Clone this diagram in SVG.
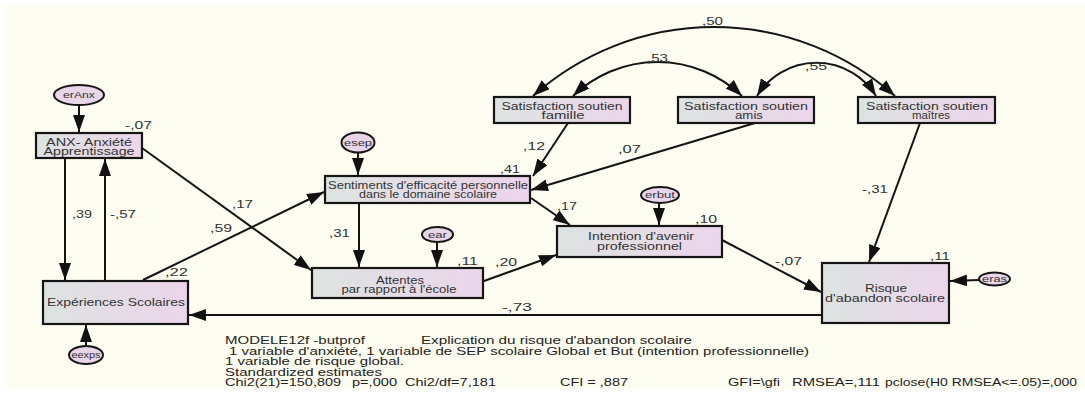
<svg xmlns="http://www.w3.org/2000/svg" width="1085" height="396" viewBox="0 0 1085 396">
<style>
.box{stroke:#161616;stroke-width:2.2;fill:url(#bg)}
.ell{stroke:#161616;stroke-width:2;fill:#e8d5e8}
.bt{font-family:"Liberation Sans",Arial,sans-serif;font-size:10px;fill:#333;text-anchor:middle}
.et{font-family:"Liberation Sans",Arial,sans-serif;font-size:9px;fill:#333;text-anchor:middle}
.nt{font-family:"Liberation Sans",Arial,sans-serif;font-size:11px;fill:#333}
.ft{font-family:"Liberation Sans",Arial,sans-serif;font-size:11.5px;fill:#222}
.c{fill:none;stroke:#141414;stroke-width:2;marker-end:url(#ah)}
.cv{fill:none;stroke:#141414;stroke-width:2;marker-start:url(#ah);marker-end:url(#ah)}
</style>
<defs>
<linearGradient id="bg" x1="0" y1="0" x2="1" y2="0">
<stop offset="0" stop-color="#dde3e1"/>
<stop offset="1" stop-color="#ecd5eb"/>
</linearGradient>
<marker id="ah" viewBox="0 0 17 12" refX="17" refY="6" markerWidth="17" markerHeight="12" markerUnits="userSpaceOnUse" orient="auto-start-reverse">
<path d="M0,0 L17,6 L0,12 z" fill="#111"/>
</marker>
</defs>
<rect x="0" y="0" width="1085" height="396" fill="#ffffff"/>
<rect x="5" y="5" width="1080" height="384" fill="#fdfdf1"/>

<g id="connectors">
<path class="c" d="M79,105 L79,132"/>
<path class="c" d="M65,158 L65,280"/>
<path class="c" d="M105,280 L105,159"/>
<path class="c" d="M142,148 L311,270"/>
<path class="c" d="M143,280 L324,192"/>
<path class="c" d="M358,153 L358,175"/>
<path class="c" d="M359,203 L359,267"/>
<path class="c" d="M437,242 L437,267"/>
<path class="c" d="M568,123 L533,176"/>
<path class="c" d="M755,123 L531,190"/>
<path class="c" d="M531,198 L570,225"/>
<path class="c" d="M484,281 L556,255"/>
<path class="c" d="M659,203 L659,225"/>
<path class="c" d="M722,240 L821,292"/>
<path class="c" d="M920,123 L869,262"/>
<path class="c" d="M979,280 L950,281"/>
<path class="c" d="M822,315 L189,315"/>
<path class="c" d="M86,345 L86,325"/>
<path class="cv" d="M533,96 A272,272 0 0 1 895,96"/>
<path class="cv" d="M573,96 A122,122 0 0 1 742,96"/>
<path class="cv" d="M757,96 A70,70 0 0 1 876,96"/>
</g>

<g id="labels">
<text class="nt" x="125" y="129" textLength="27" lengthAdjust="spacingAndGlyphs">-,07</text>
<text class="nt" x="72" y="218" textLength="20" lengthAdjust="spacingAndGlyphs">,39</text>
<text class="nt" x="110" y="218" textLength="26" lengthAdjust="spacingAndGlyphs">-,57</text>
<text class="nt" x="232" y="208" textLength="21" lengthAdjust="spacingAndGlyphs">,17</text>
<text class="nt" x="210" y="232" textLength="22" lengthAdjust="spacingAndGlyphs">,59</text>
<text class="nt" x="165" y="276" textLength="23" lengthAdjust="spacingAndGlyphs">,22</text>
<text class="nt" x="329" y="237" textLength="21" lengthAdjust="spacingAndGlyphs">,31</text>
<text class="nt" x="523" y="150" textLength="22" lengthAdjust="spacingAndGlyphs">,12</text>
<text class="nt" x="500" y="173" textLength="20" lengthAdjust="spacingAndGlyphs">,41</text>
<text class="nt" x="618" y="153" textLength="23" lengthAdjust="spacingAndGlyphs">,07</text>
<text class="nt" x="647" y="62" textLength="21" lengthAdjust="spacingAndGlyphs">,53</text>
<text class="nt" x="702" y="25" textLength="21" lengthAdjust="spacingAndGlyphs">,50</text>
<text class="nt" x="805" y="70" textLength="22" lengthAdjust="spacingAndGlyphs">,55</text>
<text class="nt" x="862" y="193" textLength="26" lengthAdjust="spacingAndGlyphs">-,31</text>
<text class="nt" x="557" y="210" textLength="20" lengthAdjust="spacingAndGlyphs">,17</text>
<text class="nt" x="457" y="265" textLength="21" lengthAdjust="spacingAndGlyphs">,11</text>
<text class="nt" x="495" y="266" textLength="22" lengthAdjust="spacingAndGlyphs">,20</text>
<text class="nt" x="695" y="223" textLength="22" lengthAdjust="spacingAndGlyphs">,10</text>
<text class="nt" x="775" y="265" textLength="27" lengthAdjust="spacingAndGlyphs">-,07</text>
<text class="nt" x="930" y="260" textLength="20" lengthAdjust="spacingAndGlyphs">,11</text>
<text class="nt" x="502" y="311" textLength="30" lengthAdjust="spacingAndGlyphs">-,73</text>
</g>

<g id="erAnx"><ellipse class="ell" cx="79" cy="95" rx="25" ry="10"/><text class="et" x="79" y="98" textLength="32" lengthAdjust="spacingAndGlyphs">erAnx</text></g>
<g id="ANX"><rect class="box" x="36" y="133" width="106" height="25"/>
<text class="bt" x="89" y="145.5" textLength="86" lengthAdjust="spacingAndGlyphs">ANX- Anxiété</text>
<text class="bt" x="89" y="155" textLength="91" lengthAdjust="spacingAndGlyphs">Apprentissage</text></g>
<g id="Experiences"><rect class="box" x="43" y="281" width="145" height="43"/>
<text class="bt" x="116" y="306" textLength="138" lengthAdjust="spacingAndGlyphs" style="font-size:10.5px">Expériences Scolaires</text></g>
<g id="eexps"><ellipse class="ell" cx="86" cy="355" rx="17" ry="9"/><text class="et" x="86" y="358" textLength="29" lengthAdjust="spacingAndGlyphs">eexps</text></g>
<g id="esep"><ellipse class="ell" cx="358" cy="142.5" rx="16.5" ry="10"/><text class="et" x="358" y="145.5" textLength="28" lengthAdjust="spacingAndGlyphs">esep</text></g>
<g id="Sentiments"><rect class="box" x="325" y="176" width="205" height="27"/>
<text class="bt" x="428" y="188.5" textLength="200" lengthAdjust="spacingAndGlyphs">Sentiments d'efficacité personnelle</text>
<text class="bt" x="428" y="197.5" textLength="138" lengthAdjust="spacingAndGlyphs">dans le domaine scolaire</text></g>
<g id="famille"><rect class="box" x="494" y="97" width="136" height="26"/>
<text class="bt" x="562" y="109.5" textLength="121" lengthAdjust="spacingAndGlyphs">Satisfaction soutien</text>
<text class="bt" x="563" y="118.5" textLength="43" lengthAdjust="spacingAndGlyphs">famille</text></g>
<g id="amis"><rect class="box" x="678" y="97" width="136" height="26"/>
<text class="bt" x="746" y="109.5" textLength="124" lengthAdjust="spacingAndGlyphs">Satisfaction soutien</text>
<text class="bt" x="749" y="118.5" textLength="28" lengthAdjust="spacingAndGlyphs">amis</text></g>
<g id="maitres"><rect class="box" x="858" y="97" width="137" height="26"/>
<text class="bt" x="927" y="109.5" textLength="122" lengthAdjust="spacingAndGlyphs">Satisfaction soutien</text>
<text class="bt" x="931" y="118.5" textLength="38" lengthAdjust="spacingAndGlyphs">maîtres</text></g>
<g id="ear"><ellipse class="ell" cx="437.5" cy="234.5" rx="15.5" ry="7.5"/><text class="et" x="437.5" y="237.5" textLength="19" lengthAdjust="spacingAndGlyphs">ear</text></g>
<g id="Attentes"><rect class="box" x="312" y="268" width="171" height="30"/>
<text class="bt" x="400" y="283.5" textLength="48" lengthAdjust="spacingAndGlyphs">Attentes</text>
<text class="bt" x="399" y="292.5" textLength="115" lengthAdjust="spacingAndGlyphs">par rapport à l'école</text></g>
<g id="erbut"><ellipse class="ell" cx="660" cy="195" rx="19" ry="8"/><text class="et" x="660" y="198" textLength="30" lengthAdjust="spacingAndGlyphs">erbut</text></g>
<g id="Intention"><rect class="box" x="557" y="226" width="165" height="31"/>
<text class="bt" x="641" y="240" textLength="106" lengthAdjust="spacingAndGlyphs">Intention d'avenir</text>
<text class="bt" x="639.5" y="250" textLength="85" lengthAdjust="spacingAndGlyphs">professionnel</text></g>
<g id="Risque"><rect class="box" x="822" y="263" width="127" height="60"/>
<text class="bt" x="886" y="292" textLength="42" lengthAdjust="spacingAndGlyphs">Risque</text>
<text class="bt" x="885" y="302" textLength="120" lengthAdjust="spacingAndGlyphs">d'abandon scolaire</text></g>
<g id="eras"><ellipse class="ell" cx="994.5" cy="279" rx="15.5" ry="6.5"/><text class="et" x="994.5" y="282" textLength="25" lengthAdjust="spacingAndGlyphs">eras</text></g>

<g id="caption">
<text class="ft" x="225" y="344" textLength="140" lengthAdjust="spacingAndGlyphs">MODELE12f -butprof</text>
<text class="ft" x="421" y="344" textLength="271" lengthAdjust="spacingAndGlyphs">Explication du risque d'abandon scolaire</text>
<text class="ft" x="229" y="354.5" textLength="580" lengthAdjust="spacingAndGlyphs">1 variable d'anxiété, 1 variable de SEP scolaire Global et But (intention professionnelle)</text>
<text class="ft" x="225" y="365" textLength="179" lengthAdjust="spacingAndGlyphs">1 variable de risque global.</text>
<text class="ft" x="225" y="375.5" textLength="157" lengthAdjust="spacingAndGlyphs">Standardized estimates</text>
<text class="ft" x="225" y="386" textLength="116" lengthAdjust="spacingAndGlyphs">Chi2(21)=150,809</text>
<text class="ft" x="352" y="386" textLength="45" lengthAdjust="spacingAndGlyphs">p=,000</text>
<text class="ft" x="405" y="386" textLength="91" lengthAdjust="spacingAndGlyphs">Chi2/df=7,181</text>
<text class="ft" x="560" y="386" textLength="68" lengthAdjust="spacingAndGlyphs">CFI = ,887</text>
<text class="ft" x="728" y="386" textLength="52" lengthAdjust="spacingAndGlyphs">GFI=\gfi</text>
<text class="ft" x="792" y="386" textLength="88" lengthAdjust="spacingAndGlyphs">RMSEA=,111</text>
<text class="ft" x="885" y="386" textLength="192" lengthAdjust="spacingAndGlyphs">pclose(H0 RMSEA&lt;=.05)=,000</text>
</g>
</svg>
